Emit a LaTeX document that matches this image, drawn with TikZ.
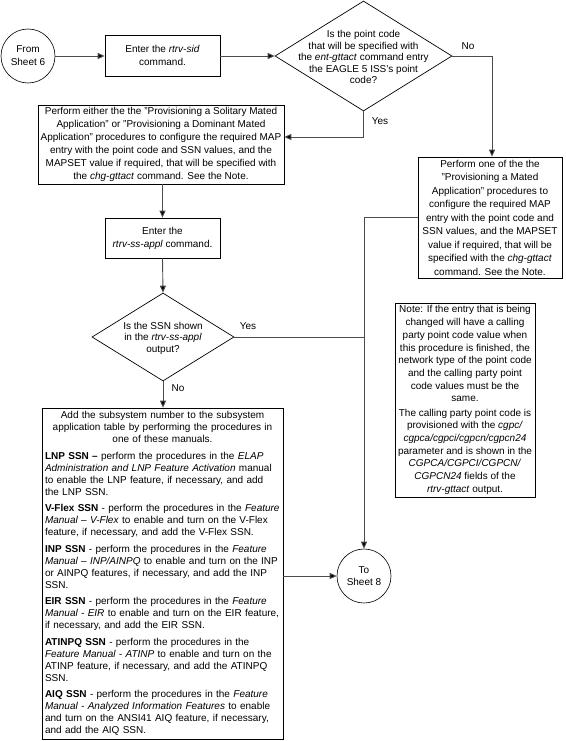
\documentclass[tikz,border=0pt]{standalone}
\usepackage{fontspec}
\setmainfont{Liberation Sans}
\usetikzlibrary{arrows.meta,shapes.geometric,calc}
\newcommand{\fsz}[1]{\fontsize{10pt}{#1pt}\selectfont}
\newcommand{\dtext}[2][-2pt]{\smash{\makebox[0pt]{\raisebox{#1}{\begin{tabular}{@{}c@{}}#2\end{tabular}}}}}
\begin{document}
\begin{tikzpicture}[x=1pt,y=-1pt,
  box/.style={draw=black, line width=0.7pt, align=center, inner sep=0pt},
  conn/.style={draw=black!70, line width=0.9pt},
  arr/.style={conn, -{Triangle[length=7pt,width=6pt,fill=black]}},
  lbl/.style={font=\fsz{12}, inner sep=0pt},
  term/.style={circle, draw=black, line width=0.6pt, minimum size=54pt, inner sep=0pt, align=center, font=\fsz{13}},
  dec/.style={diamond, draw=black, line width=0.7pt, inner sep=0pt}]
\useasboundingbox (0,0) rectangle (565,741);
\fill[white] (0,0) rectangle (565,741);
% terminals
\node[term] (from) at (28,56) {From\\Sheet 6};
\node[term, font=\fsz{12}] (to) at (364,576) {To\\Sheet 8};
% boxes
\node[box, minimum width=115pt, minimum height=41pt, font=\fsz{13}] (sid) at (162.5,55.5) {Enter the \textit{rtrv-sid}\\command.};
\node[dec, minimum width=177pt, minimum height=110pt, font=\fsz{11.5}] (d1) at (363.5,56) {\dtext[-5pt]{Is the point code\\that will be specified with\\the \textit{ent-gttact} command entry\\the EAGLE 5 ISS's point\\code?}};
\node[box, minimum width=246pt, minimum height=79pt, font=\fsz{13}] (l1) at (161,144.5) {Perform either the the "Provisioning a Solitary Mated\\Application" or "Provisioning a Dominant Mated\\Application" procedures to configure the required MAP\\entry with the point code and SSN values, and the\\MAPSET value if required, that will be specified with\\the \textit{chg-gttact} command. See the Note.};
\node[box, minimum width=144pt, minimum height=121pt, font=\fsz{13.5}] (r1) at (490,217.5) {Perform one of the the\\"Provisioning a Mated\\Application" procedures to\\configure the required MAP\\entry with the point code and\\SSN values, and the MAPSET\\value if required, that will be\\specified with the \textit{chg-gttact}\\command. See the Note.};
\node[box, minimum width=115pt, minimum height=40pt, font=\fsz{13}] (ss) at (162.5,238) {Enter the\\\textit{rtrv-ss-appl} command.};
\node[dec, minimum width=142pt, minimum height=88pt, font=\fsz{11.7}] (d2) at (163,337) {\dtext[-4pt]{Is the SSN shown\\in the \textit{rtrv-ss-appl}\\output?}};
\node[box, minimum width=140pt, minimum height=194pt, font=\fsz{12.7}] (note) at (465,400) {Note: If the entry that is being\\changed will have a calling\\party point code value when\\this procedure is finished, the\\network type of the point code\\and the calling party point\\code values must be the\\same.\\[1.5pt]The calling party point code is\\provisioned with the \textit{cgpc/}\\\textit{cgpca/cgpci/cgpcn/cgpcn24}\\parameter and is shown in the\\\textit{CGPCA/CGPCI/CGPCN/}\\\textit{CGPCN24} fields of the\\\textit{rtrv-gttact} output.};
\node[box, align=left, text width=235pt, inner xsep=3pt, minimum height=331pt, font=\fsz{12}] (bot) at (162.5,573.5) {{\centering Add the subsystem number to the subsystem\\application table by performing the procedures in\\one of these manuals.\par}\vspace{4.5pt}
\raggedright\textbf{LNP SSN –} perform the procedures in the \textit{ELAP}\\\textit{Administration and LNP Feature Activation} manual\\to enable the LNP feature, if necessary, and add\\the LNP SSN.\\[4.5pt]
\textbf{V-Flex SSN} - perform the procedures in the \textit{Feature}\\\textit{Manual – V-Flex} to enable and turn on the V-Flex\\feature, if necessary, and add the V-Flex SSN.\\[4.5pt]
\textbf{INP SSN} - perform the procedures in the \textit{Feature}\\\textit{Manual – INP/AINPQ} to enable and turn on the INP\\or AINPQ features, if necessary, and add the INP\\SSN.\\[4.5pt]
\textbf{EIR SSN} - perform the procedures in the \textit{Feature}\\\textit{Manual - EIR} to enable and turn on the EIR feature,\\if necessary, and add the EIR SSN.\\[4.5pt]
\textbf{ATINPQ SSN} - perform the procedures in the\\\textit{Feature Manual - ATINP} to enable and turn on the\\ATINP feature, if necessary, and add the ATINPQ\\SSN.\\[4.5pt]
\textbf{AIQ SSN} - perform the procedures in the \textit{Feature}\\\textit{Manual - Analyzed Information Features} to enable\\and turn on the ANSI41 AIQ feature, if necessary,\\and add the AIQ SSN.};
% connectors
\draw[arr] (from.east) -- (from.east -| sid.west);
\draw[arr] (d1.west -| sid.east) -- (d1.west);
\draw[arr] (d1.east) -| ([xshift=2pt]r1.north);
\node[lbl] (no1) at (468,46) {No};
\draw[arr] (d1.south) |- ([yshift=7.5pt]l1.east);
\node[lbl] (yes1) at (380,121) {Yes};
\draw[arr] (ss.north |- l1.south) -- (ss.north);
\draw[arr] (ss.south) -- (d2.north);
\draw[arr] (d2.south) -- (d2.south |- bot.north);
\node[lbl] (no2) at (178,388) {No};
\draw[conn] (d2.east) -- (d2.east -| to.north);
\node[lbl] (yes2) at (248,326) {Yes};
\draw[arr] (r1.west) -| (to.north);
\draw[arr] (bot.east |- to.west) -- (to.west);
\end{tikzpicture}
\end{document}
